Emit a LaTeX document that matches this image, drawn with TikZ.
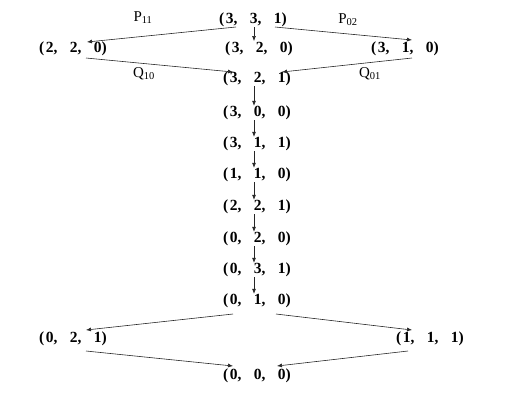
\documentclass[tikz,border=0pt]{standalone}
\usepackage{fontspec}
\setmainfont{Liberation Serif}
\usetikzlibrary{arrows.meta}
\newcommand{\trip}[3]{\textbf{(\hspace{0.1em}#1,\hspace{0.8em}#2,\hspace{0.8em}#3)}}
\begin{document}
\begin{tikzpicture}[x=1bp,y=-1bp,
  st/.style={inner sep=0pt,yshift=-2bp,font=\fontsize{15.5bp}{17bp}\selectfont},
  lb/.style={inner sep=0pt,yshift=-1bp,font=\fontsize{15bp}{17bp}\selectfont},
  ar/.style={draw=black!85,line width=0.6pt,-{Latex[length=5bp,width=4bp]}}]
\useasboundingbox (0,0) rectangle (509,406);
\node[st] (a) at (253,18) {\trip{3}{3}{1}};
\node[st] (b) at (73,47) {\trip{2}{2}{0}};
\node[st] (c) at (259,47) {\trip{3}{2}{0}};
\node[st] (d) at (405,47) {\trip{3}{1}{0}};
\node[st] (e) at (257,77) {\trip{3}{2}{1}};
\node[st] (f) at (257,111) {\trip{3}{0}{0}};
\node[st] (g) at (257,142) {\trip{3}{1}{1}};
\node[st] (h) at (257,173) {\trip{1}{1}{0}};
\node[st] (i) at (257,205) {\trip{2}{2}{1}};
\node[st] (j) at (257,237) {\trip{0}{2}{0}};
\node[st] (k) at (257,268) {\trip{0}{3}{1}};
\node[st] (l) at (257,299) {\trip{0}{1}{0}};
\node[st] (m) at (73,337) {\trip{0}{2}{1}};
\node[st] (n) at (430,337) {\trip{1}{1}{1}};
\node[st] (o) at (257,374) {\trip{0}{0}{0}};
\node[lb] (p11) at (143,17) {P\textsubscript{11}};
\node[lb] (p02) at (348,19) {P\textsubscript{02}};
\node[lb] (q10) at (144,73) {Q\textsubscript{10}};
\node[lb] (q01) at (370,73) {Q\textsubscript{01}};
\coordinate (a1) at (236,27); \coordinate (b1) at (87,42);
\coordinate (a2) at (275,27); \coordinate (d1) at (412,40);
\coordinate (b2) at (86,58); \coordinate (e1) at (233,72);
\coordinate (d2) at (412,58); \coordinate (e2) at (282,72);
\coordinate (l1) at (233,314); \coordinate (m1) at (86,330);
\coordinate (l2) at (276,314); \coordinate (n1) at (412,330);
\coordinate (m2) at (86,351); \coordinate (o1) at (233,366);
\coordinate (n2) at (408,351); \coordinate (o2) at (277,366);
\draw[ar] (a1) -- (b1);
\draw[ar] (a2) -- (d1);
\draw[ar] (b2) -- (e1);
\draw[ar] (d2) -- (e2);
\draw[ar] (l1) -- (m1);
\draw[ar] (l2) -- (n1);
\draw[ar] (m2) -- (o1);
\draw[ar] (n2) -- (o2);
\draw[ar] (254,27) -- (254,41);
\foreach \u/\v in {e/f,f/g,g/h,h/i,i/j,j/k,k/l}
  \draw[ar] ([xshift=-3bp]\u.south) -- ([xshift=-3bp]\v.north);
\end{tikzpicture}
\end{document}
